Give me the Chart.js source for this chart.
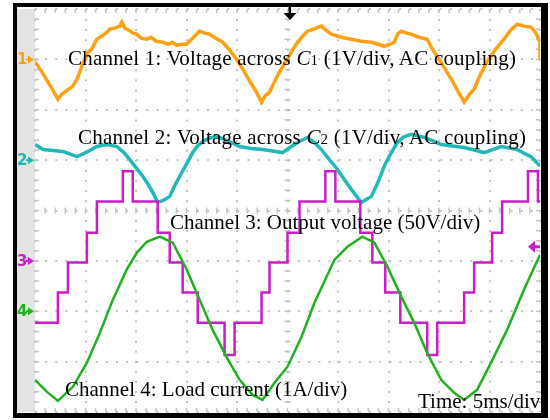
<!DOCTYPE html>
<html>
<head>
<meta charset="utf-8">
<script src="https://cdn.jsdelivr.net/npm/chart.js@4/dist/chart.umd.min.js"></script>
<style>
  body { margin: 0; background: #fff; }
  #wrap { position: relative; width: 550px; height: 420px; }
  .lbl { position: absolute; font-family: "Liberation Serif", "Times New Roman", serif; font-size: 21px; line-height: 1; color: #000; white-space: nowrap; }
  .lbl small { font-size: 15px; }
  .wide { letter-spacing: 0.2px; }
</style>
</head>
<body>
<div id="wrap">
  <canvas id="scope" width="550" height="420"></canvas>
  <div class="lbl wide" style="left:68px; top:48px;">Channel 1: Voltage across <i>C</i><small>1</small> (1V/div, AC coupling)</div>
  <div class="lbl wide" style="left:78px; top:127px;">Channel 2: Voltage across <i>C</i><small>2</small> (1V/div, AC coupling)</div>
  <div class="lbl" style="left:170px; top:212px;">Channel 3: Output voltage (50V/div)</div>
  <div class="lbl" style="left:65px; top:379px;">Channel 4: Load current (1A/div)</div>
  <div class="lbl" style="left:418px; top:391px;">Time: 5ms/div</div>
</div>
<script>
// time in ms (5 ms/div), amplitude in screen divisions (0 = centre line)
const ch1 = [
  [0, 2.95], [0.6, 2.78], [1.2, 2.58], [1.8, 2.38], [2.27, 2.21], [2.6, 2.30], [3.0, 2.36], [3.4, 2.42],
  [3.75, 2.47], [4.2, 2.62], [4.7, 2.90], [5.24, 3.14], [5.6, 3.20], [6.13, 3.40], [6.5, 3.45], [7.0, 3.52],
  [7.41, 3.60], [7.9, 3.62], [8.4, 3.66], [8.6, 3.74], [8.9, 3.62], [9.3, 3.58], [9.7, 3.52], [10.08, 3.50],
  [10.5, 3.42], [11.07, 3.40], [11.5, 3.44], [12.0, 3.36], [12.65, 3.34], [13.2, 3.30], [13.6, 3.34], [14.03, 3.28],
  [14.5, 3.30], [15.02, 3.30], [15.6, 3.42], [16.3, 3.56], [16.8, 3.52], [17.29, 3.50], [17.9, 3.42], [18.58, 3.34],
  [19.3, 3.18], [19.96, 3.00], [20.6, 2.80], [21.25, 2.57], [21.9, 2.36], [22.43, 2.15], [22.8, 2.28], [23.22, 2.35],
  [23.7, 2.55], [24.21, 2.75], [24.7, 2.91], [25.3, 3.12], [25.99, 3.34], [26.5, 3.46], [26.98, 3.56], [27.6, 3.60],
  [28.36, 3.66], [28.8, 3.58], [29.35, 3.50], [30.3, 3.44], [31.32, 3.40], [32.3, 3.36], [33.3, 3.34], [34.0, 3.30],
  [34.58, 3.26], [35.1, 3.30], [35.57, 3.34], [35.9, 3.50], [36.26, 3.56], [36.8, 3.52], [37.25, 3.50], [38.0, 3.44],
  [38.83, 3.40], [39.3, 3.22], [39.82, 3.06], [40.5, 2.84], [41.21, 2.61], [41.9, 2.36], [42.49, 2.15], [43.0, 2.30],
  [43.48, 2.41], [44.1, 2.70], [44.76, 2.95], [45.6, 3.20], [46.44, 3.40], [47.1, 3.58], [47.73, 3.70], [48.4, 3.66],
  [49.11, 3.64], [49.6, 3.52], [50, 3.34], [50, 3.00]
];
const ch2 = [
  [0, 1.31], [0.8, 1.21], [1.8, 1.19], [2.77, 1.17], [3.5, 1.12], [4.15, 1.07], [4.7, 1.12], [5.24, 1.17],
  [6.13, 1.27], [7.11, 1.31], [8.1, 1.27], [8.8, 1.15], [9.39, 1.01], [10.0, 0.85], [10.67, 0.68], [11.2, 0.52],
  [11.66, 0.36], [12.15, 0.16], [12.7, 0.20], [13.34, 0.28], [13.8, 0.48], [14.33, 0.68], [15.0, 0.92], [15.61, 1.15],
  [16.1, 1.28], [16.6, 1.37], [17.3, 1.44], [17.98, 1.47], [18.6, 1.42], [19.27, 1.37], [20.26, 1.27], [21.4, 1.23],
  [22.53, 1.21], [23.5, 1.18], [24.51, 1.15], [25.3, 1.26], [25.99, 1.35], [26.98, 1.45], [27.6, 1.36], [28.36, 1.21],
  [29.1, 1.02], [29.94, 0.82], [30.6, 0.62], [31.32, 0.42], [32.31, 0.16], [32.8, 0.22], [33.3, 0.28], [34.0, 0.58],
  [34.58, 0.88], [35.2, 1.12], [35.87, 1.35], [36.5, 1.46], [37.25, 1.51], [38.54, 1.45], [39.4, 1.38], [40.22, 1.31],
  [41.3, 1.28], [42.49, 1.25], [43.5, 1.20], [44.47, 1.15], [45.3, 1.21], [46.15, 1.27], [47.0, 1.24], [47.73, 1.21],
  [48.4, 1.14], [49.11, 1.07], [50, 0.88]
];
// staircase output voltage: level holds from each time until the next one
const ch3 = [
  [0, -2.23], [2.27, -1.63], [3.26, -1.03], [5.14, -0.44], [6.13, 0.18], [8.7, 0.78], [9.68, 0.18], [12.15, -0.44],
  [13.34, -1.03], [14.62, -1.63], [16.11, -2.23], [18.77, -2.87], [19.76, -2.23], [22.43, -1.63], [23.22, -1.03],
  [25.0, -0.44], [26.19, 0.18], [28.75, 0.78], [29.74, 0.18], [32.21, -0.44], [33.4, -1.03], [34.68, -1.63],
  [36.17, -2.23], [38.83, -2.87], [39.82, -2.23], [42.49, -1.63], [43.48, -1.03], [45.26, -0.44], [46.25, 0.18],
  [48.81, 0.78], [49.8, 0.18], [50, 0.18]
];
const ch4 = [
  [0, -3.36], [0.2, -3.40], [1.19, -3.60], [2.27, -3.78], [3.75, -3.50], [5.14, -3.02], [6.42, -2.43], [7.71, -1.77],
  [9.09, -1.17], [10.08, -0.84], [11.07, -0.62], [12.35, -0.52], [13.64, -0.64], [15.02, -1.17], [16.3, -1.77],
  [17.59, -2.37], [18.97, -2.91], [20.26, -3.36], [21.54, -3.66], [22.53, -3.76], [23.72, -3.42], [25.0, -3.10],
  [26.38, -2.51], [27.67, -1.83], [29.64, -0.98], [30.93, -0.72], [32.41, -0.52], [33.6, -0.64], [34.88, -1.11],
  [36.26, -1.71], [37.55, -2.23], [38.83, -2.83], [40.22, -3.36], [41.5, -3.62], [42.49, -3.76], [43.77, -3.56],
  [45.16, -3.02], [46.74, -2.37], [48.42, -1.57], [50, -0.88]
];

const channelNames = ['1', '2', '3', '4'];
const channelColors = ['#FFA015', '#22B8B8', '#C81EC8', '#22B022'];
const channelGround = [3, 1, -1, -2];   // divisions
const triggerTime = 25.2;                // ms
const triggerLevel = -0.72;              // divisions

const toPoints = arr => arr.map(p => ({ x: p[0], y: p[1] }));

const scopeFrame = {
  id: 'scopeFrame',
  beforeDraw(chart) {
    const { ctx, chartArea: a } = chart;
    ctx.save();
    ctx.fillStyle = '#fff';
    ctx.fillRect(0, 0, chart.width, chart.height);
    ctx.fillStyle = '#E3E3E3';
    ctx.fillRect(a.left - 19, a.top, 19, a.bottom - a.top);
    ctx.restore();
  },
  beforeDatasetsDraw(chart) {
    // minor tick marks on the edges and centre cross
    const { ctx, chartArea: a, scales } = chart;
    const cx = scales.x.getPixelForValue(25), cy = scales.y.getPixelForValue(0);
    ctx.save();
    ctx.strokeStyle = '#C4C4C4';
    ctx.lineWidth = 1.5;
    ctx.beginPath();
    for (let t = 1; t < 50; t++) {
      const px = scales.x.getPixelForValue(t);
      ctx.moveTo(px, a.top); ctx.lineTo(px, a.top + 4);
      ctx.moveTo(px, a.bottom - 4); ctx.lineTo(px, a.bottom);
      ctx.moveTo(px, cy - 3); ctx.lineTo(px, cy + 3);
    }
    for (let d = -3.8; d < 4; d += 0.2) {
      const py = scales.y.getPixelForValue(d);
      ctx.moveTo(a.left, py); ctx.lineTo(a.left + 4, py);
      ctx.moveTo(a.right - 4, py); ctx.lineTo(a.right, py);
      ctx.moveTo(cx - 3, py); ctx.lineTo(cx + 3, py);
    }
    ctx.stroke();
    ctx.restore();
  },
  afterDraw(chart) {
    const { ctx, chartArea: a, scales } = chart;
    ctx.save();
    // channel ground markers
    ctx.font = 'bold 15px "DejaVu Sans", sans-serif';
    ctx.textBaseline = 'middle';
    channelNames.forEach((n, i) => {
      const py = scales.y.getPixelForValue(channelGround[i]);
      ctx.fillStyle = channelColors[i];
      ctx.fillText(n, a.left - 18, py + 1);
      ctx.beginPath();
      ctx.moveTo(a.left - 7, py - 4); ctx.lineTo(a.left - 1, py); ctx.lineTo(a.left - 7, py + 4);
      ctx.closePath(); ctx.fill();
      ctx.fillRect(a.left - 9, py - 1, 3, 2);
    });
    // trigger time marker
    const tx = scales.x.getPixelForValue(triggerTime);
    ctx.fillStyle = '#000';
    ctx.fillRect(tx - 1, a.top - 4, 2.5, 10);
    ctx.beginPath();
    ctx.moveTo(tx - 6, a.top + 4); ctx.lineTo(tx + 7, a.top + 4); ctx.lineTo(tx + 0.5, a.top + 11);
    ctx.closePath(); ctx.fill();
    // trigger level marker
    const ty = scales.y.getPixelForValue(triggerLevel);
    ctx.fillStyle = channelColors[2];
    ctx.beginPath();
    ctx.moveTo(a.right - 12, ty); ctx.lineTo(a.right - 5, ty - 6); ctx.lineTo(a.right - 5, ty + 6);
    ctx.closePath(); ctx.fill();
    ctx.fillRect(a.right - 6, ty - 1.5, 6, 3);
    // black frame
    ctx.fillStyle = '#000';
    ctx.fillRect(a.left - 22, a.top - 6, 4, a.bottom - a.top + 12);
    ctx.fillRect(a.left - 22, a.top - 6, a.right - a.left + 30, 4);
    ctx.fillRect(a.right + 1, a.top - 6, 7, a.bottom - a.top + 12);
    ctx.fillRect(a.left - 22, a.bottom + 1, a.right - a.left + 30, 5);
    ctx.restore();
  }
};

const ctx = document.getElementById('scope').getContext('2d');
new Chart(ctx, {
  type: 'line',
  data: {
    datasets: [ch4, ch3, ch2, ch1].map((d, k) => {
      const i = 3 - k;
      return {
        label: 'Channel ' + channelNames[i],
        data: toPoints(d),
        borderColor: channelColors[i],
        borderWidth: i < 2 ? 3.5 : 2.5,
        pointRadius: 0,
        tension: 0,
        stepped: i === 2 ? 'before' : false,
        fill: false
      };
    })
  },
  options: {
    responsive: false,
    animation: false,
    devicePixelRatio: 1,
    layout: { padding: { left: 35, right: 10, top: 9, bottom: 8 } },
    plugins: { legend: { display: false }, tooltip: { enabled: false } },
    scales: {
      x: {
        type: 'linear', min: 0, max: 50,
        afterFit: s => { s.height = 0; },
        ticks: { display: false, stepSize: 5 },
        grid: { color: '#C4C4C4', lineWidth: 2, drawTicks: false },
        border: { display: false, dash: [2, 8.05] }
      },
      y: {
        type: 'linear', min: -4, max: 4,
        afterFit: s => { s.width = 0; },
        ticks: { display: false, stepSize: 1 },
        grid: { color: '#C4C4C4', lineWidth: 2, drawTicks: false },
        border: { display: false, dash: [2, 8.12] }
      }
    }
  },
  plugins: [scopeFrame]
});
</script>
</body>
</html>
